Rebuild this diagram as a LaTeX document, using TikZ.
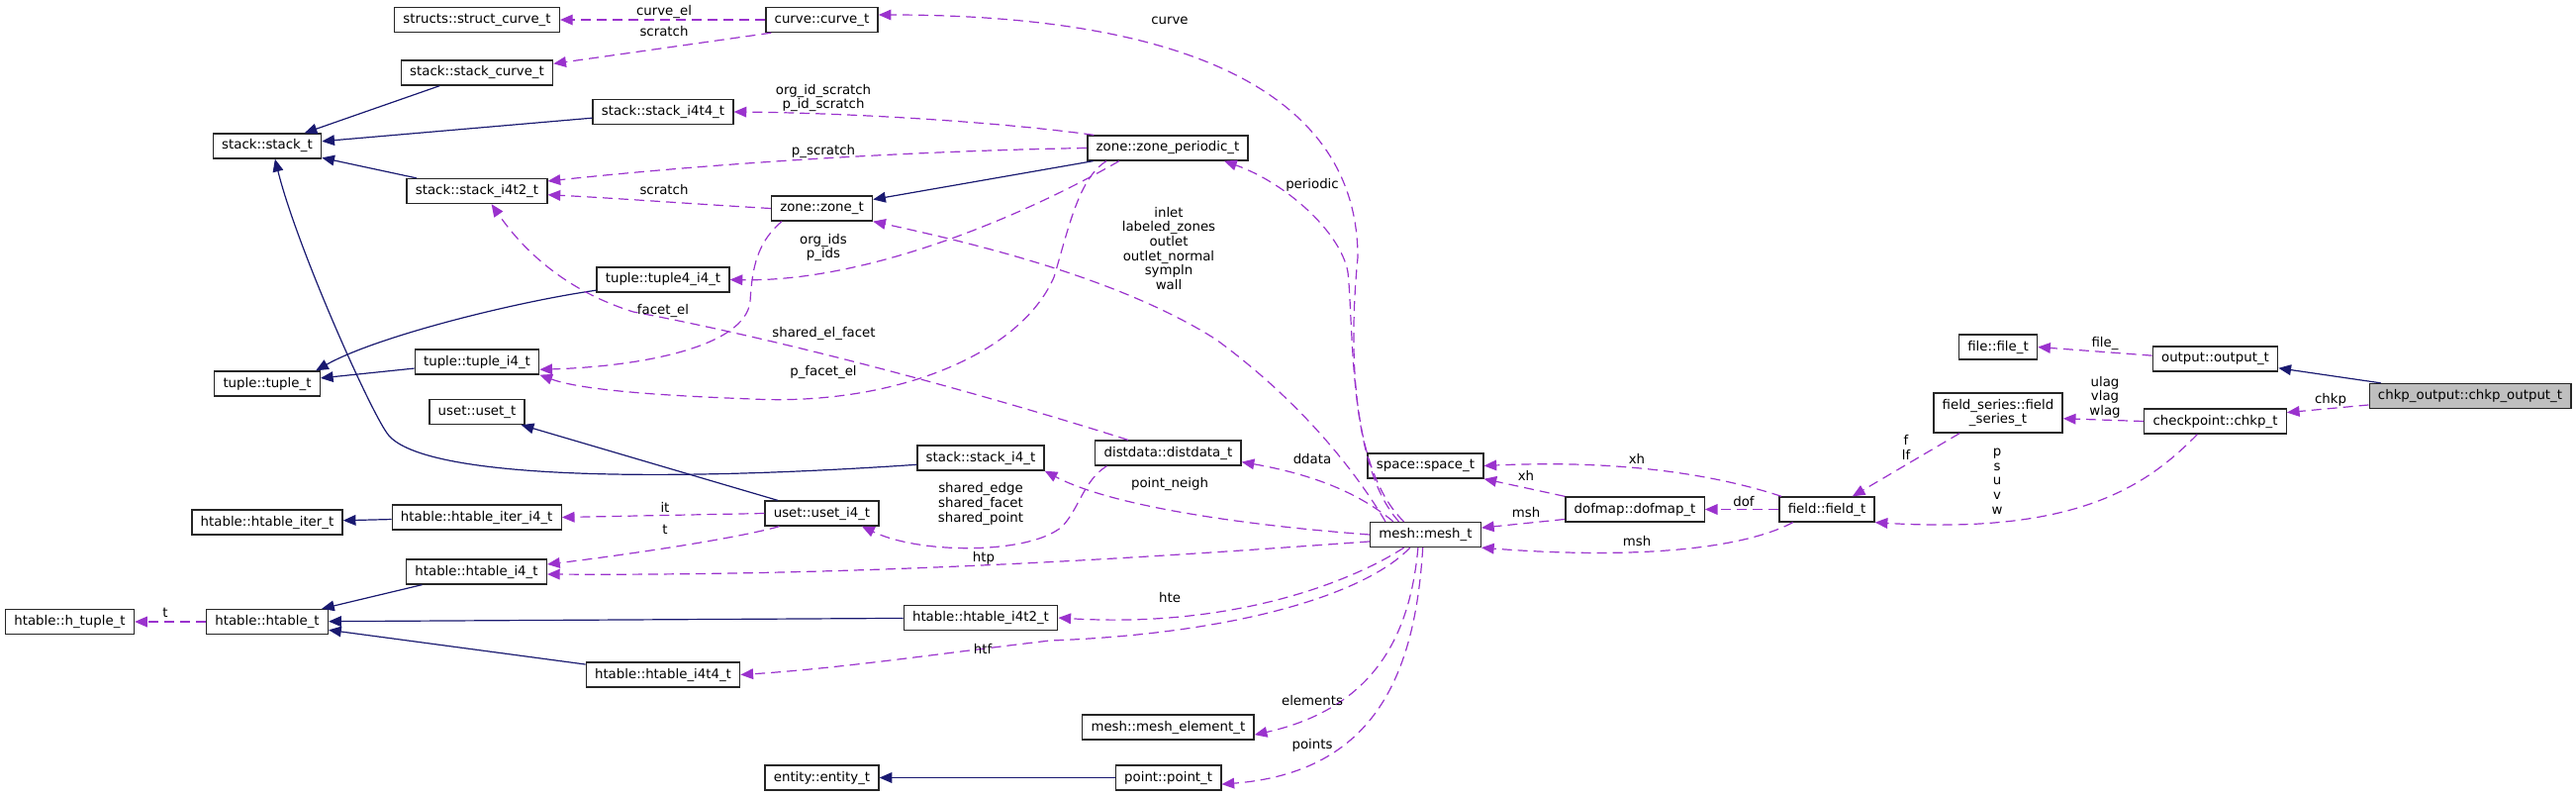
\documentclass[tikz,border=0pt]{standalone}
\usepackage{fontspec}
\setmainfont{DejaVu Sans}
\usetikzlibrary{arrows.meta}
\definecolor{inheritblue}{HTML}{191970}
\definecolor{memberpurple}{HTML}{9A32CD}
\definecolor{rootgray}{HTML}{BFBFBF}

\begin{document}
\begin{tikzpicture}[x=0.75pt,y=-0.75pt]
\tikzset{
  classnode/.style={draw=black!85,line width=1pt,fill=white,minimum height=18.75pt,inner xsep=6.6pt,inner ysep=0pt,font=\fontsize{10}{11}\selectfont},
  rootnode/.style={classnode,fill=rootgray},
  edgelabel/.style={inner sep=0pt,align=center,font=\fontsize{10}{11}\selectfont},
  inherits/.style={draw=inheritblue,line width=0.9pt,-{Triangle[length=9.5pt,width=8pt]}},
  uses/.style={draw=memberpurple,line width=0.9pt,dash pattern=on 7.5pt off 4.5pt,-{Triangle[length=9.5pt,width=8pt]}}
}
\useasboundingbox (0,0) rectangle (2603,804);
\node[classnode] (n_struct_curve_t) at (482,20) {structs::struct\_curve\_t};
\node[classnode] (n_curve_t) at (830.5,20) {curve::curve\_t};
\node[classnode] (n_stack_curve_t) at (482,73.5) {stack::stack\_curve\_t};
\node[classnode] (n_stack_t) at (270,147.5) {stack::stack\_t};
\node[classnode] (n_stack_i4t4_t) at (670,113) {stack::stack\_i4t4\_t};
\node[classnode] (n_stack_i4t2_t) at (482,193) {stack::stack\_i4t2\_t};
\node[classnode] (n_zone_periodic_t) at (1180,149.5) {zone::zone\_periodic\_t};
\node[classnode] (n_zone_t) at (830.5,210.5) {zone::zone\_t};
\node[classnode] (n_tuple4_i4_t) at (670,282.5) {tuple::tuple4\_i4\_t};
\node[classnode] (n_tuple_i4_t) at (482,365.5) {tuple::tuple\_i4\_t};
\node[classnode] (n_tuple_t) at (270,387.5) {tuple::tuple\_t};
\node[classnode] (n_uset_t) at (482,416) {uset::uset\_t};
\node[classnode] (n_stack_i4_t) at (991,462.5) {stack::stack\_i4\_t};
\node[classnode] (n_distdata_t) at (1180.4,457.5) {distdata::distdata\_t};
\node[classnode] (n_uset_i4_t) at (830.5,518.5) {uset::uset\_i4\_t};
\node[classnode] (n_htable_iter_t) at (270,527.5) {htable::htable\_iter\_t};
\node[classnode] (n_htable_iter_i4_t) at (481.7,522.5) {htable::htable\_iter\_i4\_t};
\node[classnode] (n_htable_i4_t) at (481.5,577.5) {htable::htable\_i4\_t};
\node[classnode] (n_h_tuple_t) at (70.5,628) {htable::h\_tuple\_t};
\node[classnode] (n_htable_t) at (270,628) {htable::htable\_t};
\node[classnode] (n_htable_i4t2_t) at (991,624) {htable::htable\_i4t2\_t};
\node[classnode] (n_htable_i4t4_t) at (670,681.5) {htable::htable\_i4t4\_t};
\node[classnode] (n_mesh_element_t) at (1180.4,734.5) {mesh::mesh\_element\_t};
\node[classnode] (n_entity_t) at (830.5,785.5) {entity::entity\_t};
\node[classnode] (n_point_t) at (1180.6,785.5) {point::point\_t};
\node[classnode] (n_space_t) at (1440.5,470.5) {space::space\_t};
\node[classnode] (n_mesh_t) at (1440.5,540) {mesh::mesh\_t};
\node[classnode] (n_dofmap_t) at (1652,514.5) {dofmap::dofmap\_t};
\node[classnode] (n_field_t) at (1846,514.5) {field::field\_t};
\node[classnode] (n_file_t) at (2019,350.5) {file::file\_t};
\node[classnode] (n_output_t) at (2238.5,362.5) {output::output\_t};
\node[rootnode] (n_chkp_output_t) at (2496,400) {chkp\_output::chkp\_output\_t};
\node[classnode,minimum height=30pt,align=center] (n_field_series_t) at (2019,417) {field\_series::field\\\_series\_t};
\node[classnode] (n_chkp_t) at (2238.5,425.5) {checkpoint::chkp\_t};
\draw[inherits] (n_stack_curve_t) -- (n_stack_t);
\draw[inherits] (n_stack_i4t4_t) -- (n_stack_t);
\draw[inherits] (n_stack_i4t2_t) -- (n_stack_t);
\draw[inherits] (n_stack_i4_t.186) .. controls (650,488) and (430,482) .. (393,440) .. controls (377,422) and (300,250) .. (n_stack_t.-59);
\draw[inherits] (n_uset_i4_t) -- (n_uset_t);
\draw[inherits] (n_htable_iter_i4_t) -- (n_htable_iter_t);
\draw[inherits] (n_htable_i4_t) -- (n_htable_t);
\draw[inherits] (n_htable_i4t2_t) -- (n_htable_t);
\draw[inherits] (n_htable_i4t4_t) -- (n_htable_t);
\draw[inherits] (n_tuple4_i4_t.189) .. controls (520,305) and (380,340) .. (n_tuple_t.15);
\draw[inherits] (n_tuple_i4_t) -- (n_tuple_t);
\draw[inherits] (n_zone_periodic_t) -- (n_zone_t);
\draw[inherits] (n_chkp_output_t) -- (n_output_t);
\draw[inherits] (n_point_t) -- (n_entity_t);
\draw[uses] (n_curve_t) -- (n_struct_curve_t);
\draw[uses] ([xshift=4.5pt]n_curve_t.south west) -- ([yshift=-3pt]n_stack_curve_t.north east);
\draw[uses] (n_mesh_t.149) .. controls (1360,470) and (1365,330) .. (1372,260) .. controls (1372,95) and (1200,15) .. (n_curve_t.5);
\draw[uses] (n_mesh_t.154) .. controls (1362,470) and (1368,330) .. (1362,275) .. controls (1355,235) and (1300,185) .. (n_zone_periodic_t.-13);
\draw[uses] (n_zone_periodic_t.170) .. controls (1000,122) and (850,114) .. (n_stack_i4t4_t.east);
\draw[uses] (n_zone_periodic_t.west) .. controls (950,152) and (750,162) .. (n_stack_i4t2_t.8);
\draw[uses] (n_zone_t.west) .. controls (700,206) and (620,200) .. (n_stack_i4t2_t.-3);
\draw[uses] (n_zone_periodic_t.195) .. controls (1040,215) and (880,285) .. (n_tuple4_i4_t.east);
\draw[uses] (n_zone_t.198) .. controls (765,245) and (760,270) .. (758,305) .. controls (752,350) and (650,370) .. (n_tuple_i4_t.-7);
\draw[uses] (n_distdata_t.162) .. controls (1000,400) and (800,345) .. (640,315) .. controls (560,290) and (520,240) .. (n_stack_i4t2_t.-42);
\draw[uses] (n_zone_periodic_t.192) .. controls (1090,180) and (1080,230) .. (1065,280) .. controls (1030,360) and (900,410) .. (760,403) .. controls (680,400) and (590,395) .. (n_tuple_i4_t.south east);
\draw[uses] (n_mesh_t.162) .. controls (1360,460) and (1300,395) .. (1229,343) .. controls (1130,280) and (980,245) .. (n_zone_t.south east);
\draw[uses] (n_mesh_t.158) .. controls (1370,495) and (1320,478) .. (n_distdata_t.-7);
\draw[uses] (n_mesh_t.west) .. controls (1250,530) and (1120,510) .. (n_stack_i4_t.south east);
\draw[uses] (n_distdata_t.192) .. controls (1095,485) and (1090,515) .. (1073,532) .. controls (1040,560) and (930,560) .. (n_uset_i4_t.-18);
\draw[uses] (n_uset_i4_t.west) -- (n_htable_iter_i4_t.east);
\draw[uses] (n_uset_i4_t.197) .. controls (740,545) and (620,562) .. (n_htable_i4_t.6);
\draw[uses] (n_mesh_t.187) .. controls (1200,560) and (900,582) .. (n_htable_i4_t.-2);
\draw[uses] (n_mesh_t.211) .. controls (1370,585) and (1250,635) .. (n_htable_i4t2_t.east);
\draw[uses] (n_mesh_t.220) .. controls (1380,600) and (1250,640) .. (1061,647) .. controls (950,660) and (850,675) .. (n_htable_i4t4_t.east);
\draw[uses] (n_mesh_t.240) .. controls (1425,640) and (1390,715) .. (n_mesh_element_t.-5);
\draw[uses] (n_mesh_t.258) .. controls (1430,680) and (1390,780) .. (n_point_t.-7);
\draw[uses] (n_dofmap_t.north west) -- (n_space_t.south east);
\draw[uses] (n_field_t.164) .. controls (1720,475) and (1620,465) .. (n_space_t.east);
\draw[uses] (n_dofmap_t.188) -- (n_mesh_t.7);
\draw[uses] (n_field_t) -- (n_dofmap_t);
\draw[uses] (n_field_t.201) .. controls (1760,555) and (1650,565) .. (n_mesh_t.south east);
\draw[uses] (n_field_series_t.208) -- (n_field_t.27);
\draw[uses] (n_chkp_t.216) .. controls (2170,490) and (2100,540) .. (n_field_t.south east);
\draw[uses] (n_chkp_t.west) -- (n_field_series_t.-5);
\draw[uses] (n_chkp_output_t.185) -- (n_chkp_t.7);
\draw[uses] (n_output_t.177) -- (n_file_t.east);
\draw[uses] (n_htable_t) -- (n_h_tuple_t);
\node[edgelabel] (l_curve_el) at (671,12) {curve\_el};
\node[edgelabel] (l_scratch_curve) at (671,32) {scratch};
\node[edgelabel] (l_curve) at (1182,21) {curve};
\node[edgelabel] (l_id_scratch) at (832,99) {org\_id\_scratch\\p\_id\_scratch};
\node[edgelabel] (l_p_scratch) at (832,153) {p\_scratch};
\node[edgelabel] (l_scratch_zone) at (671,192) {scratch};
\node[edgelabel] (l_ids) at (832,250) {org\_ids\\p\_ids};
\node[edgelabel] (l_facet_el) at (670,314) {facet\_el};
\node[edgelabel] (l_shared_el_facet) at (832.5,337) {shared\_el\_facet};
\node[edgelabel] (l_p_facet_el) at (832,376) {p\_facet\_el};
\node[edgelabel] (l_periodic) at (1326,187) {periodic};
\node[edgelabel] (l_zones) at (1181,251) {inlet\\labeled\_zones\\outlet\\outlet\_normal\\sympln\\wall};
\node[edgelabel] (l_ddata) at (1326,464) {ddata};
\node[edgelabel] (l_point_neigh) at (1182,489) {point\_neigh};
\node[edgelabel] (l_shared) at (991,509) {shared\_edge\\shared\_facet\\shared\_point};
\node[edgelabel] (l_it) at (672,512) {it};
\node[edgelabel] (l_t_uset) at (672,535) {t};
\node[edgelabel] (l_htp) at (994,564) {htp};
\node[edgelabel] (l_hte) at (1182,604) {hte};
\node[edgelabel] (l_htf) at (993,655) {htf};
\node[edgelabel] (l_elements) at (1326,708) {elements};
\node[edgelabel] (l_points) at (1326,753) {points};
\node[edgelabel] (l_xh_dofmap) at (1542,480) {xh};
\node[edgelabel] (l_xh_field) at (1654,463) {xh};
\node[edgelabel] (l_msh_dofmap) at (1542,518) {msh};
\node[edgelabel] (l_dof) at (1762,507) {dof};
\node[edgelabel] (l_msh_field) at (1654,547) {msh};
\node[edgelabel] (l_f) at (1926,452) {f\\lf};
\node[edgelabel] (l_psuvw) at (2018,486) {p\\s\\u\\v\\w};
\node[edgelabel] (l_lag) at (2127,401) {ulag\\vlag\\wlag};
\node[edgelabel] (l_chkp) at (2355,404) {chkp};
\node[edgelabel] (l_file) at (2127,347) {file\_};
\node[edgelabel] (l_t_htable) at (167,619) {t};
\end{tikzpicture}
\end{document}
